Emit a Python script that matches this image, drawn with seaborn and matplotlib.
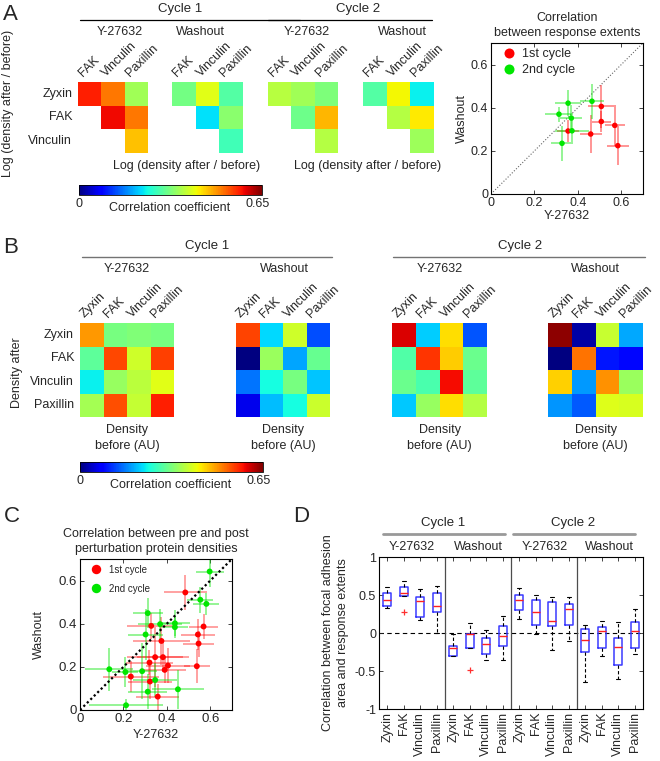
import numpy as np
import pandas as pd
import matplotlib
matplotlib.use("Agg")
import matplotlib.pyplot as plt
import seaborn as sns
from matplotlib.lines import Line2D
from matplotlib.colors import Normalize
from matplotlib.cm import ScalarMappable

# ---------------- data ----------------
proteins = ["Zyxin", "FAK", "Vinculin", "Paxillin"]
conditions = ["Y-27632", "Washout"]
cycles = ["Cycle 1", "Cycle 2"]
legend_labels = ["1st cycle", "2nd cycle"]

# Panel A : correlation between response extents (pairs of proteins)
pairs_a = [("Zyxin", "FAK"), ("Zyxin", "Vinculin"), ("Zyxin", "Paxillin"),
           ("FAK", "Vinculin"), ("FAK", "Paxillin"), ("Vinculin", "Paxillin")]
a_y27_c1 = [0.570, 0.508, 0.355, 0.584, 0.508, 0.459]
a_wash_c1 = [0.318, 0.406, 0.292, 0.224, 0.336, 0.278]
a_y27_c2 = [0.373, 0.355, 0.327, 0.313, 0.465, 0.370]
a_wash_c2 = [0.293, 0.421, 0.235, 0.370, 0.430, 0.352]
a_y27_c1_err = [0.045, 0.060, 0.050, 0.050, 0.045, 0.050]
a_wash_c1_err = [0.095, 0.100, 0.050, 0.090, 0.050, 0.090]
a_y27_c2_err = [0.080, 0.060, 0.050, 0.065, 0.055, 0.050]
a_wash_c2_err = [0.050, 0.060, 0.080, 0.035, 0.080, 0.060]

# Panel B / C : rows = density after, cols = density before
b_y27_c1 = [[0.485, 0.320, 0.328, 0.322],
            [0.300, 0.543, 0.390, 0.546],
            [0.234, 0.346, 0.375, 0.405],
            [0.358, 0.538, 0.382, 0.569]]
b_wash_c1 = [[0.545, 0.220, 0.390, 0.132],
             [-0.120, 0.350, 0.186, 0.308],
             [0.155, 0.245, 0.320, 0.206],
             [0.062, 0.203, 0.245, 0.387]]
b_y27_c2 = [[0.597, 0.212, 0.437, 0.135],
            [0.290, 0.554, 0.451, 0.312],
            [0.312, 0.286, 0.582, 0.302],
            [0.209, 0.346, 0.437, 0.369]]
b_wash_c2 = [[0.642, 0.022, 0.384, 0.189],
             [-0.100, 0.511, 0.096, 0.085],
             [0.449, 0.180, 0.492, 0.350],
             [0.176, 0.139, 0.402, 0.398]]
c_y27_c1_err = [[0.10, 0.11, 0.11, 0.10], [0.10, 0.08, 0.10, 0.07],
                [0.13, 0.13, 0.13, 0.10], [0.10, 0.06, 0.12, 0.065]]
c_wash_c1_err = [[0.08, 0.06, 0.06, 0.08], [0.05, 0.07, 0.06, 0.06],
                 [0.07, 0.14, 0.11, 0.08], [0.06, 0.08, 0.07, 0.06]]
c_y27_c2_err = [[0.065, 0.17, 0.06, 0.11], [0.08, 0.06, 0.12, 0.09],
                [0.07, 0.07, 0.06, 0.08], [0.06, 0.10, 0.07, 0.10]]
c_wash_c2_err = [[0.07, 0.03, 0.05, 0.10], [0.05, 0.06, 0.09, 0.08],
                 [0.07, 0.13, 0.05, 0.12], [0.07, 0.08, 0.06, 0.07]]

# Panel D : box statistics (16 boxes: cycle x condition x protein)
d_labels = proteins * 4
d_whislo = [0.335, 0.49, 0.17, 0.00, -0.30, -0.195, -0.36, -0.36,
            0.19, -0.01, -0.23, -0.11, -0.645, -0.30, -0.60, -0.275]
d_q1 = [0.35, 0.49, 0.21, 0.28, -0.30, -0.195, -0.27, -0.165,
        0.30, 0.105, 0.09, 0.11, -0.25, -0.20, -0.415, -0.20]
d_med = [0.43, 0.53, 0.42, 0.35, -0.20, -0.015, -0.147, -0.033,
         0.44, 0.28, 0.155, 0.315, -0.09, 0.03, -0.18, 0.02]
d_q3 = [0.525, 0.60, 0.47, 0.525, -0.165, -0.01, -0.07, 0.09,
        0.50, 0.44, 0.41, 0.38, 0.05, 0.075, -0.065, 0.145]
d_whishi = [0.61, 0.69, 0.58, 0.62, -0.015, 0.13, 0.04, 0.225,
            0.59, 0.50, 0.47, 0.48, 0.105, 0.155, 0.145, 0.31]
d_outlier_box = [1, 5]
d_outlier_val = [0.28, -0.485]

# ---------------- style ----------------
sns.set_style("ticks")
plt.rcParams["font.family"] = ["Liberation Sans", "DejaVu Sans"]
plt.rcParams["font.size"] = 9
plt.rcParams["axes.edgecolor"] = "black"
plt.rcParams["axes.linewidth"] = 0.8
FS = 9
CMAP = "jet"
VMAX = 0.65
RED = "#ff0000"
GREEN = "#00e600"
BOXBLUE = "#3a3aff"

W, H = 660, 761
fig = plt.figure(figsize=(W / 100, H / 100), dpi=100)


def rect(x0, y0, x1, y1):
    return [x0 / W, 1 - y1 / H, (x1 - x0) / W, (y1 - y0) / H]


def ftext(x, y, s, **kw):
    kw.setdefault("ha", "center")
    kw.setdefault("va", "center")
    kw.setdefault("fontsize", FS)
    fig.text(x / W, 1 - y / H, s, **kw)


def fline(x0, x1, y, **kw):
    fig.add_artist(Line2D([x0 / W, x1 / W], [1 - y / H, 1 - y / H],
                          transform=fig.transFigure, **kw))


def draw_heat(box, mat, rows, cols, rowlabels):
    ax = fig.add_axes(rect(*box))
    sns.heatmap(np.array(mat, dtype=float), ax=ax, cmap=CMAP, vmin=0, vmax=VMAX,
                cbar=False, xticklabels=False, yticklabels=False)
    for j, c in enumerate(cols):
        ax.text(j + 0.3, -0.12, c, rotation=45, ha="left", va="bottom",
                rotation_mode="anchor", fontsize=FS)
    if rowlabels:
        for i, r in enumerate(rows):
            ax.text(-0.25, i + 0.5, r, ha="right", va="center", fontsize=FS)
    ax.tick_params(left=False, bottom=False)
    return ax


def draw_cbar(x0, y0, x1, y1):
    cax = fig.add_axes(rect(x0, y0, x1, y1))
    cb = fig.colorbar(ScalarMappable(norm=Normalize(0, VMAX), cmap=CMAP),
                      cax=cax, orientation="horizontal")
    cb.set_ticks([])
    cb.outline.set_linewidth(0.6)
    ftext(x0, y1 + 9, "0")
    ftext(x1 - 4, y1 + 9, "0.65")
    ftext((x0 + x1) / 2 - 1, y1 + 13, "Correlation coefficient")


def style_axes(ax):
    ax.tick_params(direction="in", length=3, width=0.6, top=True, right=True,
                   labelsize=FS, pad=2)
    for s in ax.spines.values():
        s.set_visible(True)
        s.set_color("black")
        s.set_linewidth(0.8)


def tri(vals):
    rows = ["Zyxin", "FAK", "Vinculin"]
    cols = ["FAK", "Vinculin", "Paxillin"]
    m = np.full((3, 3), np.nan)
    for (a, b), v in zip(pairs_a, vals):
        m[rows.index(a), cols.index(b)] = v
    return m

# ---------------- Panel A ----------------
ftext(3, 14, "A", ha="left", fontsize=16)
rowsA = ["Zyxin", "FAK", "Vinculin"]
colsA = ["FAK", "Vinculin", "Paxillin"]
heatA = [((78, 82, 148, 153), a_y27_c1), ((172, 82, 243, 153), a_wash_c1),
         ((268, 82, 338, 153), a_y27_c2), ((363, 82, 434, 153), a_wash_c2)]
for k, (box, vals) in enumerate(heatA):
    draw_heat(box, tri(vals), rowsA, colsA, rowlabels=(k == 0))

ftext(180, 9, cycles[0], fontsize=9.5)
fline(80, 300, 20, color="black", lw=0.9)
ftext(358, 9, cycles[1], fontsize=9.5)
fline(268, 432, 20, color="black", lw=0.9)
for x, c in zip([120, 200, 307, 402], conditions * 2):
    ftext(x, 32, c)
ftext(187, 166, "Log (density after / before)")
ftext(368, 166, "Log (density after / before)")
ftext(8, 103, "Log (density after / before)", rotation=90)
draw_cbar(79, 185, 262, 195)

# scatter A
axS = fig.add_axes(rect(491, 43, 643, 194))
dfA = pd.DataFrame({"x": a_y27_c1 + a_y27_c2, "y": a_wash_c1 + a_wash_c2,
                    "cycle": [legend_labels[0]] * 6 + [legend_labels[1]] * 6})
axS.errorbar(a_y27_c1, a_wash_c1, xerr=a_y27_c1_err, yerr=a_wash_c1_err, fmt="none",
             ecolor=RED, alpha=0.45, elinewidth=1.3, zorder=2)
axS.errorbar(a_y27_c2, a_wash_c2, xerr=a_y27_c2_err, yerr=a_wash_c2_err, fmt="none",
             ecolor=GREEN, alpha=0.45, elinewidth=1.3, zorder=2)
axS.plot([0, 0.7], [0, 0.7], ls=":", color="0.4", lw=0.8, zorder=1)
sns.scatterplot(data=dfA, x="x", y="y", hue="cycle",
                palette={legend_labels[0]: RED, legend_labels[1]: GREEN},
                s=16, edgecolor="none", ax=axS, zorder=3)
axS.legend(loc="upper left", frameon=False, fontsize=9, handletextpad=0.1,
           borderaxespad=0.2, markerscale=1.8, labelspacing=0.35, borderpad=0.2)
axS.set_xlim(0, 0.7)
axS.set_ylim(0, 0.7)
ticks = [0, 0.2, 0.4, 0.6]
axS.set_xticks(ticks, ["0", "0.2", "0.4", "0.6"])
axS.set_yticks(ticks, ["0", "0.2", "0.4", "0.6"])
axS.set_xlabel("Y-27632", fontsize=FS, labelpad=1)
axS.set_ylabel("Washout", fontsize=FS, labelpad=2)
axS.set_title("Correlation\nbetween response extents", fontsize=FS, pad=5, linespacing=1.3)
style_axes(axS)

# ---------------- Panel B ----------------
ftext(3, 247, "B", ha="left", fontsize=16)
heatB = [((80, 323, 174, 417), b_y27_c1), ((236, 323, 330, 417), b_wash_c1),
         ((392, 323, 487, 417), b_y27_c2), ((548, 323, 643, 417), b_wash_c2)]
for k, (box, mat) in enumerate(heatB):
    draw_heat(box, mat, proteins, proteins, rowlabels=(k == 0))
    cx = (box[0] + box[2]) / 2
    ftext(cx, 430, "Density")
    ftext(cx, 446, "before (AU)")
ftext(207, 246, cycles[0], fontsize=9.5)
fline(82, 332, 257, color="0.45", lw=1.0)
ftext(520, 246, cycles[1], fontsize=9.5)
fline(393, 645, 257, color="0.45", lw=1.0)
for x, c in zip([127, 284, 440, 595], conditions * 2):
    ftext(x, 269, c)
ftext(17, 373, "Density after", rotation=90)
draw_cbar(80, 462, 263, 472)

# ---------------- Panel C ----------------
ftext(4, 516, "C", ha="left", fontsize=16)
axC = fig.add_axes(rect(80, 559, 232, 710))
xc1 = np.array(b_y27_c1).ravel(); yc1 = np.array(b_wash_c1).ravel()
xc2 = np.array(b_y27_c2).ravel(); yc2 = np.array(b_wash_c2).ravel()
axC.errorbar(xc1, yc1, xerr=np.array(c_y27_c1_err).ravel(), yerr=np.array(c_wash_c1_err).ravel(),
             fmt="none", ecolor=RED, alpha=0.4, elinewidth=1.3, zorder=2)
axC.errorbar(xc2, yc2, xerr=np.array(c_y27_c2_err).ravel(), yerr=np.array(c_wash_c2_err).ravel(),
             fmt="none", ecolor=GREEN, alpha=0.45, elinewidth=1.3, zorder=2)
axC.plot([0, 0.7], [0, 0.7], ls=(0, (1, 1.2)), color="black", lw=1.6, zorder=2.5)
dfC = pd.DataFrame({"x": np.concatenate([xc1, xc2]), "y": np.concatenate([yc1, yc2]),
                    "cycle": [legend_labels[0]] * 16 + [legend_labels[1]] * 16})
sns.scatterplot(data=dfC, x="x", y="y", hue="cycle",
                palette={legend_labels[0]: RED, legend_labels[1]: GREEN},
                s=18, edgecolor="none", ax=axC, zorder=3)
axC.legend(loc="upper left", frameon=False, fontsize=7, handletextpad=0.4,
           borderaxespad=0.3, markerscale=1.6, labelspacing=0.9, borderpad=0.3)
axC.set_xlim(0, 0.7)
axC.set_ylim(0, 0.7)
axC.set_xticks(ticks, ["0", "0.2", "0.4", "0.6"])
axC.set_yticks(ticks, ["0", "0.2", "0.4", "0.6"])
axC.set_xlabel("Y-27632", fontsize=FS, labelpad=3)
axC.set_ylabel("Washout", fontsize=FS, labelpad=10)
axC.set_title("Correlation between pre and post\nperturbation protein densities",
              fontsize=FS, pad=5, linespacing=1.3)
style_axes(axC)
axC.tick_params(labelsize=9.5)

# ---------------- Panel D ----------------
ftext(293, 516, "D", ha="left", fontsize=16)
axD = fig.add_axes(rect(379, 557, 643, 709))
dfD = pd.DataFrame({
    "box": np.repeat(np.arange(16), 5),
    "val": np.column_stack([d_whislo, d_q1, d_med, d_q3, d_whishi]).ravel(),
})
axD.axhline(0, color="black", ls=(0, (4, 3)), lw=0.8, zorder=0)
for xv in [3.5, 7.5, 11.5]:
    axD.axvline(xv, color="0.3", lw=0.9, zorder=0)
sns.boxplot(data=dfD, x="box", y="val", ax=axD, width=0.5, fill=False,
            color=BOXBLUE, saturation=1, linewidth=1.0, showfliers=False, whis=1.5,
            boxprops={"color": BOXBLUE, "linewidth": 1.1},
            medianprops={"color": "#ff2020", "linewidth": 1.0},
            whiskerprops={"color": "black", "linestyle": (0, (3, 2)), "linewidth": 0.8},
            capprops={"color": "black", "linewidth": 0.8})
sns.scatterplot(x=d_outlier_box, y=d_outlier_val, marker="+", color="#ff3030",
                s=14, linewidth=0.9, ax=axD, zorder=4)
axD.set_xlim(-0.5, 15.5)
axD.set_ylim(-1, 1)
axD.set_yticks([-1, -0.5, 0, 0.5, 1], ["-1", "-0.5", "0", "0.5", "1"])
axD.set_xticks(range(16))
axD.set_xticklabels(d_labels, rotation=90, fontsize=FS)
axD.set_xlabel("")
axD.set_ylabel("Correlation between focal adhesion\narea and response extents",
               fontsize=FS, labelpad=4, linespacing=1.35)
style_axes(axD)
ftext(443, 523, cycles[0], fontsize=9.5)
fline(383, 505, 534, color="0.6", lw=2.0)
ftext(573, 523, cycles[1], fontsize=9.5)
fline(513, 635, 534, color="0.6", lw=2.0)
for x, c in zip([412, 478, 545, 609], conditions * 2):
    ftext(x, 547, c)

fig.savefig("out.png", dpi=100)
